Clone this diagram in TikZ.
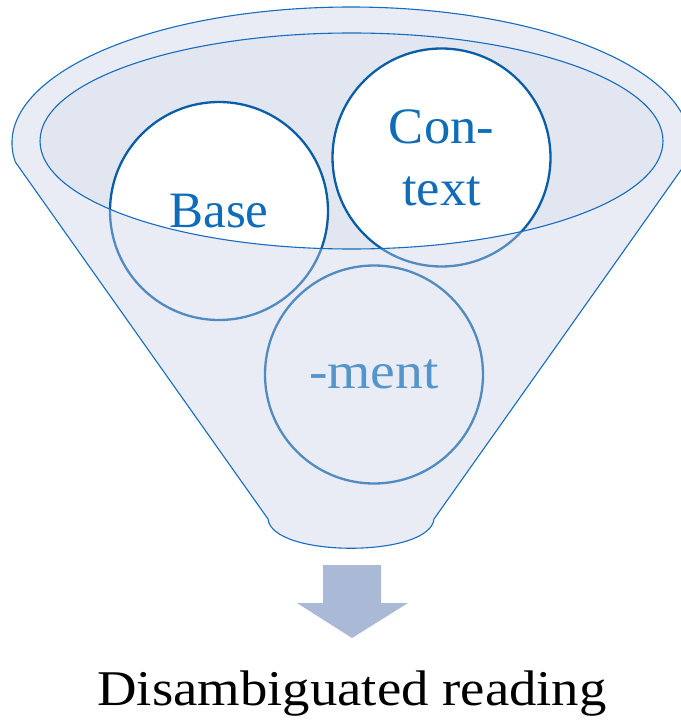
\documentclass[tikz,border=0pt]{standalone}
\usepackage{fontspec}
\setmainfont{Liberation Serif}
\definecolor{funnelfill}{RGB}{233,236,245}
\definecolor{innerfill}{RGB}{225,230,240}
\definecolor{fline}{RGB}{22,108,190}
\definecolor{cline}{RGB}{10,94,168}
\definecolor{ctext}{RGB}{14,108,184}
\definecolor{arrowc}{RGB}{169,185,214}
\begin{document}
\begin{tikzpicture}[x=1pt,y=1pt,
  funnelline/.style={draw=fline, line width=1.1pt},
  circ/.style={circle, draw=cline, line width=2.3pt, minimum size=218pt, inner sep=0pt,
    text=ctext, font=\fontsize{51}{62}\selectfont, align=center},
  blockarrow/.style={fill=arrowc}
]
\useasboundingbox (0,0) rectangle (680,-727);
\coordinate (L) at (15.32,-162);
\coordinate (R) at (686.68,-162);
\coordinate (BL) at (268,-519);
\coordinate (BR) at (434,-519);
\coordinate (IE) at (351.5,-141);
\coordinate (cbase) at (219,-211);
\coordinate (ccon) at (441.5,-157.5);
\coordinate (cment) at (374,-374.5);
% back of funnel
\fill[funnelfill] (L) arc[start angle=188.03, end angle=-8.03, x radius=339, y radius=136]
  -- (BR) .. controls (430,-558) and (272,-558) .. (BL) -- cycle;
\fill[innerfill] (IE) ellipse[x radius=311.5, y radius=108];
% white circle interiors inside the mouth
\begin{scope}
  \clip (IE) ellipse[x radius=311.5, y radius=108];
  \fill[white] (cbase) circle[radius=109];
  \fill[white] (ccon) circle[radius=109];
  \fill[white] (cment) circle[radius=109];
\end{scope}
% circles
\node[circ] (base) at (cbase) {Base};
\node[circ] (con) at (ccon) {\scalebox{1.03}[1]{Con-}\\\scalebox{1.03}[1]{text}};
\node[circ] (ment) at (cment) {\scalebox{1.09}[1]{-ment}};
% front of funnel (translucent)
\fill[funnelfill, fill opacity=0.32, even odd rule]
  (L) arc[start angle=188.03, end angle=-8.03, x radius=339, y radius=136]
  -- (BR) .. controls (430,-558) and (272,-558) .. (BL) -- cycle
  (IE) ellipse[x radius=311.5, y radius=108];
% outlines
\draw[funnelline] (L) arc[start angle=188.03, end angle=-8.03, x radius=339, y radius=136]
  -- (BR) .. controls (430,-558) and (272,-558) .. (BL) -- cycle;
\draw[funnelline] (IE) ellipse[x radius=311.5, y radius=108];
% block arrow
\fill[blockarrow] (323,-565) -- (381,-565) -- (381,-603) -- (408,-603) -- (352,-638)
  -- (297,-603) -- (323,-603) -- cycle;
\node[anchor=base, font=\fontsize{50}{60}\selectfont, inner sep=0pt] (out) at (352,-705)
  {\scalebox{1.095}[1]{Disambiguated reading}};
\end{tikzpicture}
\end{document}
